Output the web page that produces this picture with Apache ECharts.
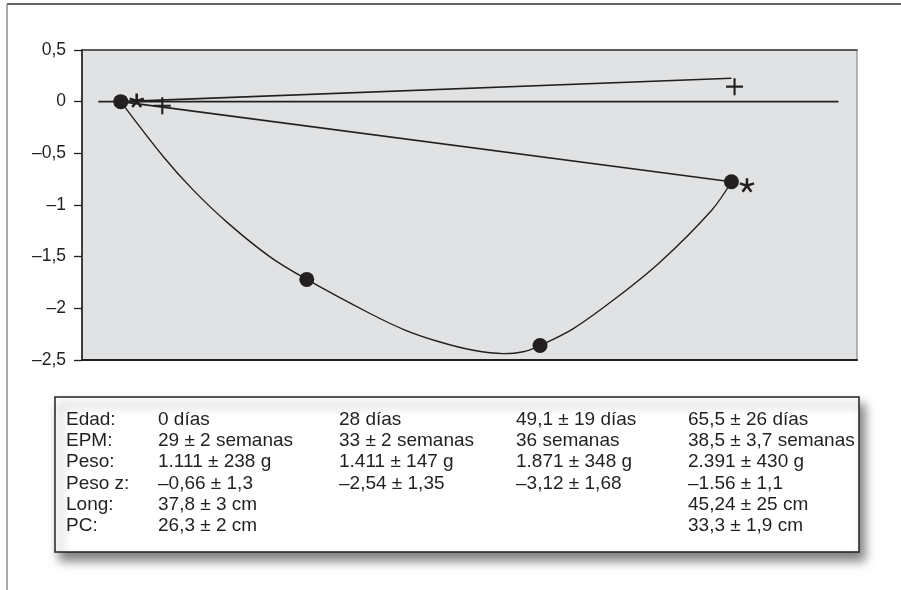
<!DOCTYPE html>
<html>
<head>
<meta charset="utf-8">
<script src="https://cdn.jsdelivr.net/npm/echarts@6/dist/echarts.min.js"></script>
<style>
html,body{margin:0;padding:0;background:#fff;}
#c{width:901px;height:590px;}
</style>
</head>
<body>
<div id="c"></div>
<script>
// ---- data (x in hidden horizontal units 0..100, y = z-score change) ----
const yTicks = ['0,5', '0', '–0,5', '–1', '–1,5', '–2', '–2,5'];
const circleX = [5.0, 29.0, 59.1, 83.8];
const circleY = [0, -1.72, -2.36, -0.775];
const starX = [7.06, 85.8];
const starY = [0.01, -0.81];
const plusX = [10.36, 84.2];
const plusY = [-0.04, 0.145];
// traced course of the curved line through the circles
const curveX = [5.0, 10.5, 14.36, 18.88, 24.26, 29.0, 37.16, 41.68, 46.19, 50.5, 54.36, 56.94, 59.1, 63.4, 68.56, 74.58, 81.25, 83.8];
const curveY = [0, -0.533, -0.856, -1.178, -1.502, -1.72, -2.05, -2.21, -2.326, -2.406, -2.438, -2.42, -2.36, -2.196, -1.92, -1.553, -1.05, -0.775];
const upperLineX = [5.0, 83.8];
const upperLineY = [0, 0.227];
const lowerLineX = [5.0, 83.8];
const lowerLineY = [0, -0.775];
const zeroLineX = [2.1, 97.6];
const zeroLineY = [0, 0];

// table
const rowLabels = ['Edad:', 'EPM:', 'Peso:', 'Peso z:', 'Long:', 'PC:'];
const col1 = ['0 días', '29 ± 2 semanas', '1.111 ± 238 g', '–0,66 ± 1,3', '37,8 ± 3 cm', '26,3 ± 2 cm'];
const col2 = ['28 días', '33 ± 2 semanas', '1.411 ± 147 g', '–2,54 ± 1,35', '', ''];
const col3 = ['49,1 ± 19 días', '36 semanas', '1.871 ± 348 g', '–3,12 ± 1,68', '', ''];
const col4 = ['65,5 ± 26 días', '38,5 ± 3,7 semanas', '2.391 ± 430 g', '–1.56 ± 1,1', '45,24 ± 25 cm', '33,3 ± 1,9 cm'];

// ---- helpers ----
const pairs = (xs, ys) => xs.map((x, i) => [x, ys[i]]);
function asteriskPath(arms, len, w) {
  let p = '';
  for (let k = 0; k < arms; k++) {
    const a = (-90 + k * 360 / arms) * Math.PI / 180;
    const ux = Math.cos(a), uy = Math.sin(a);
    const nx = -uy, ny = ux;
    const pts = [
      [nx * w / 2, ny * w / 2],
      [nx * w / 2 + ux * len, ny * w / 2 + uy * len],
      [-nx * w / 2 + ux * len, -ny * w / 2 + uy * len],
      [-nx * w / 2, -ny * w / 2]
    ];
    p += 'M' + pts.map(q => (q[0] + 20).toFixed(2) + ',' + (q[1] + 20).toFixed(2)).join('L') + 'Z';
  }
  return 'path://' + p;
}
const starSymbol = asteriskPath(5, 7.5, 2.6);
const plusSymbol = 'path://M7,0L9,0L9,7L16,7L16,9L9,9L9,16L7,16L7,9L0,9L0,7L7,7Z';
const ink = '#231f20';
const font = '"Liberation Sans", Arial, Helvetica, sans-serif';

const chart = echarts.init(document.getElementById('c'), null, {renderer: 'canvas'});

const tableGraphics = [];
const colX = [66, 158, 339, 516, 688];
const cols = [rowLabels, col1, col2, col3, col4];
const rowY0 = 419.5, rowStep = 21.3;
cols.forEach((col, ci) => {
  col.forEach((t, ri) => {
    if (!t) return;
    tableGraphics.push({
      type: 'text', z: 20,
      style: {text: t, x: colX[ci], y: rowY0 + ri * rowStep, fill: ink,
              font: '19px ' + font, verticalAlign: 'middle', align: 'left'}
    });
  });
});

chart.setOption({
  animation: false,
  backgroundColor: '#ffffff',
  grid: {left: 82, right: 44, top: 50, bottom: 230, show: true,
         backgroundColor: '#e1e2e4', borderColor: '#8a8a8a', borderWidth: 1.2},
  xAxis: [
    {type: 'value', min: 0, max: 100, position: 'bottom',
     axisLine: {show: true, onZero: false, lineStyle: {color: ink, width: 2}},
     axisTick: {show: false}, axisLabel: {show: false}, splitLine: {show: false}},
    {type: 'value', min: 0, max: 100, position: 'top',
     axisLine: {show: true, onZero: false, lineStyle: {color: '#3a3a3a', width: 1.5}},
     axisTick: {show: false}, axisLabel: {show: false}, splitLine: {show: false}}
  ],
  yAxis: {
    type: 'value', min: -2.5, max: 0.5, interval: 0.5,
    axisLine: {show: true, onZero: false, lineStyle: {color: ink, width: 1.6}},
    axisTick: {show: true, length: 8, lineStyle: {color: ink, width: 1.3}},
    splitLine: {show: false},
    axisLabel: {
      color: ink, fontSize: 17.5, fontFamily: font, margin: 16,
      formatter: function (v) {
        const idx = Math.round((0.5 - v) / 0.5);
        return yTicks[idx] !== undefined ? yTicks[idx] : '';
      }
    }
  },
  series: [
    {type: 'line', data: pairs(zeroLineX, zeroLineY), symbol: 'none',
     lineStyle: {color: ink, width: 1.7}, z: 3},
    {type: 'line', data: pairs(upperLineX, upperLineY), symbol: 'none',
     lineStyle: {color: ink, width: 1.6}, z: 3},
    {type: 'line', data: pairs(lowerLineX, lowerLineY), symbol: 'none',
     lineStyle: {color: ink, width: 1.6}, z: 3},
    {type: 'line', data: pairs(curveX, curveY), symbol: 'none', smooth: 0.35,
     lineStyle: {color: ink, width: 1.4}, z: 3},
    {type: 'scatter', data: pairs(circleX, circleY), symbol: 'circle', symbolSize: 15,
     itemStyle: {color: ink, opacity: 1}, z: 5},
    {type: 'scatter', data: pairs(starX, starY), symbol: starSymbol, symbolSize: 15,
     symbolKeepAspect: true, itemStyle: {color: ink, opacity: 1}, z: 5},
    {type: 'scatter', data: pairs(plusX, plusY), symbol: plusSymbol, symbolSize: 17,
     itemStyle: {color: ink, opacity: 1}, z: 5}
  ],
  graphic: [
    {type: 'line', shape: {x1: 7, y1: 4, x2: 901, y2: 4}, style: {stroke: '#333', lineWidth: 1.5}, z: 1},
    {type: 'line', shape: {x1: 7, y1: 4, x2: 7, y2: 590}, style: {stroke: '#8a8a8a', lineWidth: 1.5}, z: 1},
    {type: 'rect', shape: {x: 55, y: 397, width: 804, height: 155}, z: 10,
     style: {fill: '#ffffff', stroke: '#222', lineWidth: 1.5,
             shadowBlur: 10, shadowOffsetX: 5, shadowOffsetY: 8, shadowColor: 'rgba(0,0,0,0.5)'}}
  ].concat(tableGraphics)
});
</script>
</body>
</html>
